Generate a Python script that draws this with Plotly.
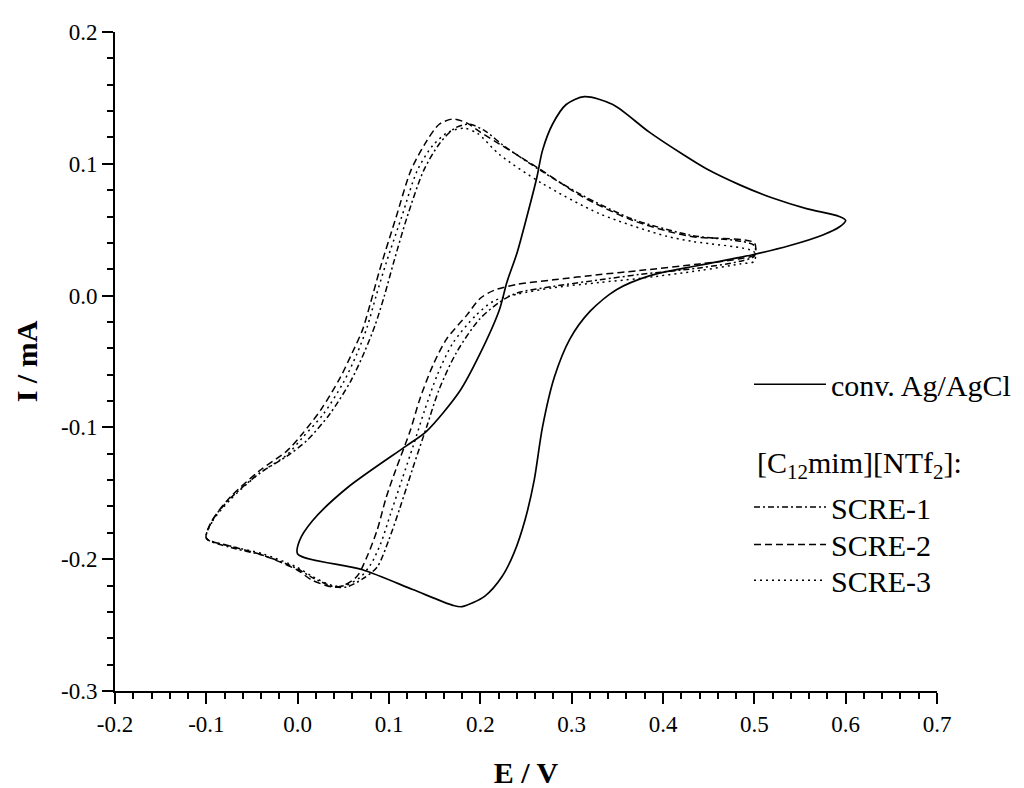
import plotly.graph_objects as go

# ---------------- data ----------------
E_conv = [0.000, 0.002, 0.016, 0.054, 0.119, 0.141, 0.177, 0.199, 0.221, 0.229, 0.240, 0.251,
          0.262, 0.268, 0.279, 0.294, 0.314, 0.345, 0.385, 0.422, 0.448, 0.484, 0.520, 0.557,
          0.593, 0.600,
          0.593, 0.575, 0.539, 0.498, 0.440, 0.385, 0.349, 0.320, 0.298, 0.281, 0.268, 0.259,
          0.249, 0.237, 0.224, 0.205, 0.180, 0.170, 0.126, 0.071, 0.000]
I_conv = [-0.196, -0.186, -0.171, -0.146, -0.114, -0.103, -0.073, -0.045, -0.0105, 0.010, 0.032, 0.060,
          0.090, 0.110, 0.130, 0.145, 0.151, 0.145, 0.124, 0.107, 0.096, 0.084, 0.074, 0.066,
          0.060, 0.057,
          0.052, 0.046, 0.038, 0.031, 0.023, 0.015, 0.0045, -0.012, -0.033, -0.062, -0.100, -0.140,
          -0.170, -0.195, -0.213, -0.228, -0.236, -0.235, -0.223, -0.208, -0.196]

E_scre1 = [-0.100, -0.093, -0.074, -0.042, -0.010, 0.010, 0.035, 0.058, 0.073, 0.085, 0.095, 0.105,
           0.120, 0.138, 0.155, 0.172, 0.188, 0.205, 0.225, 0.268, 0.312, 0.367, 0.429, 0.500,
           0.500, 0.484, 0.440, 0.374, 0.331, 0.280, 0.240, 0.221, 0.199, 0.174, 0.155, 0.141,
           0.126, 0.112, 0.100, 0.087, 0.071, 0.054, 0.040, 0.016, -0.001, -0.038, -0.074, -0.100]
I_scre1 = [-0.184, -0.170, -0.154, -0.135, -0.121, -0.110, -0.090, -0.065, -0.043, -0.022, 0.000, 0.025,
           0.060, 0.095, 0.115, 0.127, 0.130, 0.125, 0.114, 0.094, 0.076, 0.058, 0.046, 0.038,
           0.030, 0.026, 0.021, 0.016, 0.012, 0.007, 0.002, -0.005, -0.018, -0.043, -0.071, -0.100,
           -0.131, -0.161, -0.185, -0.206, -0.215, -0.221, -0.221, -0.214, -0.207, -0.197, -0.191, -0.184]

E_scre2 = [-0.100, -0.093, -0.074, -0.042, -0.012, 0.005, 0.026, 0.046, 0.060, 0.071, 0.080, 0.090,
           0.108, 0.124, 0.141, 0.155, 0.170, 0.185, 0.200, 0.221, 0.265, 0.312, 0.367, 0.429, 0.500,
           0.500, 0.484, 0.440, 0.374, 0.331, 0.280, 0.240, 0.215, 0.200, 0.185, 0.163, 0.148,
           0.134, 0.123, 0.108, 0.097, 0.087, 0.076, 0.065, 0.050, 0.038, 0.016, -0.001, -0.038,
           -0.074, -0.100]
I_scre2 = [-0.184, -0.170, -0.153, -0.133, -0.118, -0.105, -0.086, -0.063, -0.043, -0.026, -0.005, 0.020,
           0.060, 0.095, 0.117, 0.130, 0.134, 0.131, 0.124, 0.115, 0.096, 0.075, 0.057, 0.045, 0.040,
           0.031, 0.028, 0.024, 0.019, 0.016, 0.012, 0.0085, 0.004, -0.002, -0.015, -0.033, -0.053,
           -0.078, -0.103, -0.131, -0.153, -0.178, -0.198, -0.213, -0.220, -0.221, -0.216, -0.208, -0.197,
           -0.190, -0.184]

E_scre3 = [-0.100, -0.093, -0.074, -0.042, -0.012, 0.005, 0.028, 0.050, 0.065, 0.076, 0.086, 0.097,
           0.114, 0.131, 0.148, 0.165, 0.182, 0.197, 0.221, 0.268, 0.331, 0.404, 0.433, 0.500,
           0.500, 0.484, 0.440, 0.374, 0.331, 0.280, 0.240, 0.215, 0.195, 0.170, 0.153, 0.139,
           0.127, 0.114, 0.102, 0.091, 0.080, 0.068, 0.052, 0.038, 0.016, -0.001, -0.038, -0.074, -0.100]
I_scre3 = [-0.184, -0.171, -0.155, -0.135, -0.121, -0.108, -0.090, -0.066, -0.044, -0.024, 0.000, 0.025,
           0.060, 0.095, 0.114, 0.124, 0.127, 0.123, 0.107, 0.085, 0.062, 0.045, 0.041, 0.033,
           0.026, 0.024, 0.019, 0.013, 0.010, 0.006, 0.001, -0.004, -0.015, -0.036, -0.060, -0.087,
           -0.113, -0.140, -0.165, -0.188, -0.204, -0.214, -0.220, -0.220, -0.213, -0.206, -0.196, -0.190, -0.184]

x_tickvals = [-0.2, -0.1, 0.0, 0.1, 0.2, 0.3, 0.4, 0.5, 0.6, 0.7]
x_ticktext = ["-0.2", "-0.1", "0.0", "0.1", "0.2", "0.3", "0.4", "0.5", "0.6", "0.7"]
y_tickvals = [-0.3, -0.2, -0.1, 0.0, 0.1, 0.2]
y_ticktext = ["-0.3", "-0.2", "-0.1", "0.0", "0.1", "0.2"]

series_names = ["conv. Ag/AgCl", "SCRE-1", "SCRE-2", "SCRE-3"]
heading = "[C<sub>12</sub>mim][NTf<sub>2</sub>]:"

# ---------------- figure ----------------
FONT = "Liberation Serif"
W, H = 1024, 788
OFF = 8                      # page body margin
L, T = 115 - OFF, 27 - OFF   # plot area left / top
PW, PH = 822, 666            # plot area size
R, B = W - L - PW, H - T - PH

def px_x(p):
    return (p - OFF - L) / PW

def px_y(p):
    return (T + PH - (p - OFF)) / PH

fig = go.Figure()
styles = [
    ("solid", "legend", 1.7),
    ("6px,3px,2px,3px", "legend2", 1.5),
    ("7px,4px", "legend3", 1.5),
    ("2px,4px", "legend4", 1.5),
]
data = [(E_conv, I_conv), (E_scre1, I_scre1), (E_scre2, I_scre2), (E_scre3, I_scre3)]
for (ex, iy), name, (dash, lg, lw) in zip(data, series_names, styles):
    fig.add_trace(go.Scatter(
        x=ex, y=iy, mode="lines", name=name, legend=lg,
        line=dict(color="black", width=lw, dash=dash, shape="spline", smoothing=0.8),
    ))

legend_common = dict(
    bgcolor="rgba(0,0,0,0)", borderwidth=0, xanchor="left", yanchor="middle",
    font=dict(family=FONT, size=30, color="black"), itemwidth=72,
    xref="paper", yref="paper",
)
fig.update_layout(
    width=W, height=H,
    margin=dict(l=L, r=R, t=T, b=B),
    paper_bgcolor="white", plot_bgcolor="white",
    font=dict(family=FONT, color="black"),
    showlegend=True,
    legend=dict(x=px_x(749), y=px_y(383), **legend_common),
    legend2=dict(x=px_x(749), y=px_y(507), **legend_common),
    legend3=dict(x=px_x(749), y=px_y(545), **legend_common),
    legend4=dict(x=px_x(749), y=px_y(581), **legend_common),
)

axis_common = dict(
    showline=True, linecolor="black", linewidth=2, mirror=False,
    showgrid=False, zeroline=False,
    ticks="outside", ticklen=11, tickwidth=2, tickcolor="black",
    tickfont=dict(family=FONT, size=23, color="black"),
    minor=dict(ticks="outside", ticklen=6, tickwidth=2, tickcolor="black", dtick=0.02, tick0=0.0, showgrid=False),
)
fig.update_xaxes(
    range=[-0.2, 0.7], tickmode="array", tickvals=x_tickvals, ticktext=x_ticktext,
    title=dict(text="<b>E / V</b>", font=dict(family=FONT, size=30, color="black"), standoff=26),
    **axis_common,
)
fig.update_yaxes(
    range=[-0.3, 0.2], tickmode="array", tickvals=y_tickvals, ticktext=y_ticktext,
    title=dict(text="<b>I / mA</b>", font=dict(family=FONT, size=30, color="black"), standoff=14),
    **axis_common,
)

fig.add_annotation(
    text=heading, xref="paper", yref="paper", x=px_x(755), y=px_y(465),
    xanchor="left", yanchor="middle", showarrow=False,
    font=dict(family=FONT, size=30, color="black"),
)

fig.write_html("out.html")
